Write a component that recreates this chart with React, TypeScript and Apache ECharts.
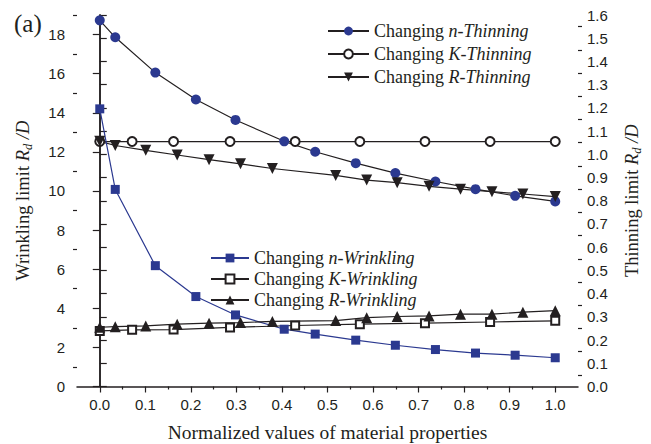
import React, { useEffect, useRef } from "react";
import * as echarts from "echarts";

// ---- data ----
const xN = [0, 0.034, 0.122, 0.211, 0.298, 0.405, 0.473, 0.562, 0.649, 0.737, 0.825, 0.912, 1.0];
const nThinning = [1.577, 1.504, 1.352, 1.236, 1.148, 1.056, 1.011, 0.962, 0.919, 0.883, 0.85, 0.821, 0.797];
const nWrinkling = [14.2, 10.08, 6.18, 4.6, 3.66, 2.93, 2.68, 2.37, 2.11, 1.89, 1.71, 1.6, 1.47];

const xK = [0, 0.071, 0.162, 0.286, 0.429, 0.571, 0.714, 0.857, 1.0];
const kThinning = [1.055, 1.055, 1.055, 1.055, 1.055, 1.055, 1.055, 1.055, 1.055];
const kWrinkling = [2.84, 2.9, 2.91, 3.02, 3.12, 3.19, 3.24, 3.3, 3.36];

const xR = [0, 0.034, 0.101, 0.17, 0.24, 0.309, 0.379, 0.518, 0.586, 0.653, 0.723, 0.792, 0.861, 0.929, 1.0];
const rThinning = [1.056, 1.038, 1.017, 0.997, 0.977, 0.959, 0.939, 0.909, 0.889, 0.878, 0.862, 0.85, 0.839, 0.829, 0.818];
const rWrinkling = [3.03, 3.06, 3.1, 3.19, 3.24, 3.27, 3.33, 3.37, 3.52, 3.58, 3.61, 3.7, 3.7, 3.8, 3.88];

const xTicks = [0, 0.1, 0.2, 0.3, 0.4, 0.5, 0.6, 0.7, 0.8, 0.9, 1.0];
const xMinorTicks = [0.05, 0.15, 0.25, 0.35, 0.45, 0.55, 0.65, 0.75, 0.85, 0.95];
const yLeftTicks = [0, 2, 4, 6, 8, 10, 12, 14, 16, 18];
const yLeftMinorTicks = [1, 3, 5, 7, 9, 11, 13, 15, 17, 19];
const yRightTicks = [0, 0.1, 0.2, 0.3, 0.4, 0.5, 0.6, 0.7, 0.8, 0.9, 1.0, 1.1, 1.2, 1.3, 1.4, 1.5, 1.6];
const yRightMinorTicks = [0.05, 0.15, 0.25, 0.35, 0.45, 0.55, 0.65, 0.75, 0.85, 0.95, 1.05, 1.15, 1.25, 1.35, 1.45, 1.55];

const thinningNames = ["Changing n-Thinning", "Changing K-Thinning", "Changing R-Thinning"];
const wrinklingNames = ["Changing n-Wrinkling", "Changing K-Wrinkling", "Changing R-Wrinkling"];

const zip = (xs: number[], ys: number[]) => xs.map((x, i) => [x, ys[i]]);

const BLUE = "#2b3990";
const INK = "#231f20";
const SERIF = "Liberation Serif";
const SANS = "Liberation Sans";

export default function App() {
  const ref = useRef<HTMLDivElement>(null);
  useEffect(() => {
    if (!ref.current) return;
    const chart = echarts.init(ref.current, undefined, { renderer: "svg" });

    const legendRich = {
      r: { fontFamily: SERIF, fontSize: 18, color: INK, lineHeight: 18 },
      i: { fontFamily: SERIF, fontSize: 18, color: INK, fontStyle: "italic", lineHeight: 18 },
    };
    const legendFormatter = (name: string) => {
      const idx = name.indexOf(" ");
      return `{r|${name.slice(0, idx + 1)}}{i|${name.slice(idx + 1)}}`;
    };
    const nameRich = {
      a: { fontFamily: SERIF, fontSize: 18.5, color: INK, lineHeight: 22 },
      i: { fontFamily: SERIF, fontSize: 18.5, color: INK, fontStyle: "italic", lineHeight: 22 },
      s: { fontFamily: SERIF, fontSize: 12.5, color: INK, fontStyle: "italic", lineHeight: 12, verticalAlign: "bottom" },
    };
    const axisLine = { show: true, lineStyle: { color: INK, width: 1.5 } };
    const labelStyle = { fontFamily: SANS, fontSize: 15, color: INK };

    const lineSeries = (
      name: string,
      data: number[][],
      yAxisIndex: number,
      symbol: string,
      symbolSize: number,
      color: string,
      lineColor: string,
      rotate = 0
    ) => ({
      name,
      type: "line",
      xAxisIndex: 0,
      yAxisIndex,
      data,
      symbol,
      symbolSize,
      symbolRotate: rotate,
      showAllSymbol: true,
      itemStyle: { color, borderWidth: symbol.startsWith("empty") ? 1.2 : 0 },
      lineStyle: { color: lineColor, width: 1.2 },
      emphasis: { disabled: true },
      z: 3,
    });

    chart.setOption({
      animation: false,
      backgroundColor: "#fff",
      textStyle: { fontFamily: SERIF },
      grid: { left: 77, right: 73, top: 15, bottom: 57.5, containLabel: false, outerBoundsMode: "none" },
      legend: [
        {
          data: thinningNames,
          orient: "vertical",
          left: 322,
          top: 17,
          itemWidth: 41,
          itemHeight: 11,
          itemGap: 5,
          formatter: legendFormatter,
          textStyle: { fontFamily: SERIF, rich: legendRich },
          selectedMode: false,
        },
        {
          data: wrinklingNames,
          orient: "vertical",
          left: 205,
          top: 244,
          itemWidth: 38,
          itemHeight: 11,
          itemGap: 3,
          formatter: legendFormatter,
          textStyle: { fontFamily: SERIF, rich: legendRich },
          selectedMode: false,
        },
      ],
      xAxis: [
        {
          type: "value",
          min: -0.05,
          max: 1.05,
          position: "bottom",
          axisLine,
          axisTick: { show: true, customValues: xTicks, length: 6, lineStyle: { color: INK, width: 1.2 } },
          axisLabel: { customValues: xTicks, formatter: (v: number) => v.toFixed(1), margin: 10, ...labelStyle },
          splitLine: { show: false },
          name: "Normalized values of material properties",
          nameLocation: "middle",
          nameGap: 36,
          nameTextStyle: { fontFamily: SERIF, fontSize: 19.5, color: INK },
        },
        {
          type: "value",
          min: -0.05,
          max: 1.05,
          position: "bottom",
          offset: 0,
          axisLine: { show: false },
          axisTick: { show: true, customValues: xMinorTicks, length: 3, lineStyle: { color: INK, width: 1.2 } },
          axisLabel: { show: false },
          splitLine: { show: false },
        },
      ],
      yAxis: [
        {
          type: "value",
          min: 0,
          max: 19,
          position: "left",
          axisLine,
          axisTick: { show: true, customValues: yLeftTicks, length: 7, lineStyle: { color: INK, width: 1.2 } },
          axisLabel: { customValues: yLeftTicks, margin: 12, ...labelStyle },
          splitLine: { show: false },
          name: "{a|Wrinkling limit }{i|R}{s|d}{i| /D}",
          nameLocation: "middle",
          nameRotate: 90,
          nameGap: 43,
          nameTextStyle: { fontFamily: SERIF, rich: nameRich },
        },
        {
          type: "value",
          min: 0,
          max: 1.6,
          position: "right",
          axisLine,
          axisTick: { show: true, customValues: yRightTicks, length: 7, lineStyle: { color: INK, width: 1.2 } },
          axisLabel: { customValues: yRightTicks, formatter: (v: number) => v.toFixed(1), margin: 9, ...labelStyle },
          splitLine: { show: false },
          name: "{a|Thinning limit }{i|R}{s|d}{i| /D}",
          nameLocation: "middle",
          nameRotate: 90,
          nameGap: 43,
          nameTextStyle: { fontFamily: SERIF, rich: nameRich },
        },
        {
          type: "value",
          min: 0,
          max: 19,
          position: "left",
          offset: 0,
          axisLine: { show: false },
          axisTick: { show: true, customValues: yLeftMinorTicks, length: 4, lineStyle: { color: INK, width: 1.2 } },
          axisLabel: { show: false },
          splitLine: { show: false },
        },
        {
          type: "value",
          min: 0,
          max: 1.6,
          position: "right",
          offset: 0,
          axisLine: { show: false },
          axisTick: { show: true, customValues: yRightMinorTicks, length: 4, lineStyle: { color: INK, width: 1.2 } },
          axisLabel: { show: false },
          splitLine: { show: false },
        },
      ],
      graphic: [
        {
          type: "text",
          left: 14,
          top: 11,
          style: { text: "(a)", fontFamily: SERIF, fontSize: 25, fill: INK },
        },
      ],
      series: [
        lineSeries(thinningNames[0], zip(xN, nThinning), 1, "circle", 10, BLUE, INK),
        lineSeries(thinningNames[1], zip(xK, kThinning), 1, "emptyCircle", 9, INK, INK),
        lineSeries(thinningNames[2], zip(xR, rThinning), 1, "triangle", 11, INK, INK, 180),
        lineSeries(wrinklingNames[0], zip(xN, nWrinkling), 0, "rect", 9, BLUE, BLUE),
        lineSeries(wrinklingNames[1], zip(xK, kWrinkling), 0, "emptyRect", 8, INK, INK),
        lineSeries(wrinklingNames[2], zip(xR, rWrinkling), 0, "triangle", 11, INK, INK),
      ],
    });
    return () => chart.dispose();
  }, []);
  return <div ref={ref} style={{ width: 651, height: 444, position: "absolute", left: 0, top: 0 }} />;
}
